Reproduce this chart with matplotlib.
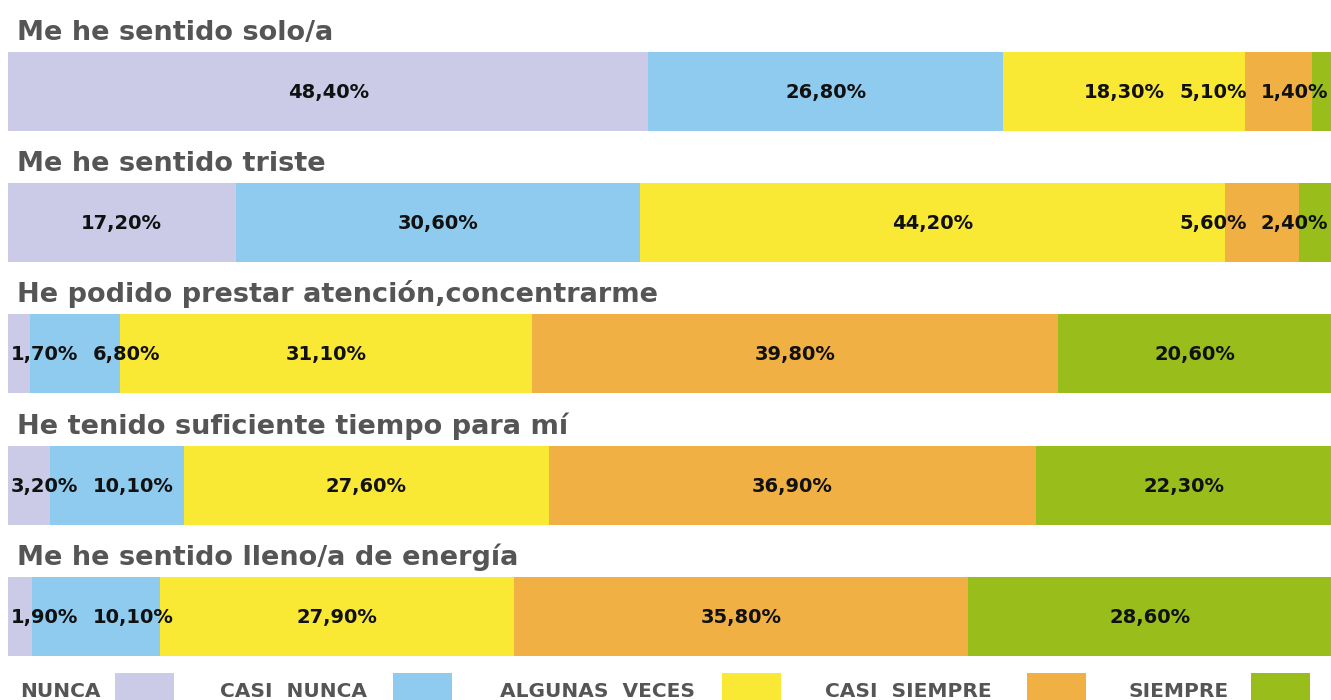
import matplotlib
matplotlib.use("Agg")
import matplotlib.pyplot as plt
from matplotlib.patches import Rectangle

# ---- data ----
questions = [
    "Me he sentido solo/a",
    "Me he sentido triste",
    "He podido prestar atención,concentrarme",
    "He tenido suficiente tiempo para mí",
    "Me he sentido lleno/a de energía",
]
categories = ["NUNCA", "CASI  NUNCA", "ALGUNAS  VECES", "CASI  SIEMPRE", "SIEMPRE"]
nunca = [48.4, 17.2, 1.7, 3.2, 1.9]
casi_nunca = [26.8, 30.6, 6.8, 10.1, 10.1]
algunas_veces = [18.3, 44.2, 31.1, 27.6, 27.9]
casi_siempre = [5.1, 5.6, 39.8, 36.9, 35.8]
siempre = [1.4, 2.4, 20.6, 22.3, 28.6]

series = [nunca, casi_nunca, algunas_veces, casi_siempre, siempre]
colors = ["#cbcbe7", "#8fcbee", "#f9e934", "#f1b043", "#99bd1b"]

W, H = 1331, 700
fig = plt.figure(figsize=(W / 100, H / 100), dpi=100)
fig.patch.set_facecolor("white")
x0, x1 = 8, 1331
ax = fig.add_axes([x0 / W, 0, (x1 - x0) / W, 1])
ax.set_xlim(0, 100)
ax.set_ylim(H, 0)
ax.axis("off")

bar_tops = [52, 183, 314, 446, 577]
bar_h = 79
title_color = "#555555"
label_font = dict(fontsize=14, fontweight="bold", color="#111111",
                  family="DejaVu Sans")

px_per_unit = (x1 - x0) / 100.0
renderer = fig.canvas.get_renderer()

for i, q in enumerate(questions):
    vals = [s[i] for s in series]
    total = sum(vals)
    scaled = [v / total * 100 for v in vals]
    yc = bar_tops[i] + bar_h / 2
    left = 0
    centers = []
    for v, c in zip(scaled, colors):
        ax.barh(yc, v, left=left, height=bar_h, color=c, edgecolor="none")
        centers.append(left + v / 2)
        left += v
    texts = []
    for v in vals:
        s = f"{v:.2f}".replace(".", ",") + "%"
        t = ax.text(0, yc + 1, s, ha="center", va="center", **label_font)
        texts.append(t)
    widths = []
    for t in texts:
        bb = t.get_window_extent(renderer=renderer)
        widths.append((bb.width + 14) / px_per_unit)
    # resolve overlaps between neighbouring labels
    pos = list(centers)
    for _ in range(300):
        moved = False
        if pos[0] - widths[0] / 2 < -0.3:
            pos[0] = -0.3 + widths[0] / 2
        if pos[-1] + widths[-1] / 2 > 100.3:
            pos[-1] = 100.3 - widths[-1] / 2
        for k in range(len(pos) - 1):
            need = (widths[k] + widths[k + 1]) / 2
            gap = pos[k + 1] - pos[k]
            if gap < need - 1e-6:
                d = (need - gap) / 2
                pos[k] -= d
                pos[k + 1] += d
                moved = True
        if not moved:
            break
    for t, p in zip(texts, pos):
        t.set_x(p)
    ax.text((17 - x0) / px_per_unit, bar_tops[i] - 12, q, ha="left",
            va="baseline", fontsize=19.5, fontweight="bold", color=title_color,
            family="DejaVu Sans")

# legend
leg_text_x = [20, 220, 500, 825, 1128]
leg_box_x = [115, 393, 722, 1027, 1251]
for lab, tx, bx, c in zip(categories, leg_text_x, leg_box_x, colors):
    fig.text(tx / W, 1 - 697 / H, lab, ha="left", va="baseline",
             fontsize=14.5, fontweight="bold", color=title_color,
             family="DejaVu Sans")
    fig.patches.append(Rectangle((bx / W, 0), 59 / W, (H - 673) / H,
                                 transform=fig.transFigure, facecolor=c,
                                 edgecolor="none"))

fig.savefig("out.png", dpi=100, facecolor="white")
